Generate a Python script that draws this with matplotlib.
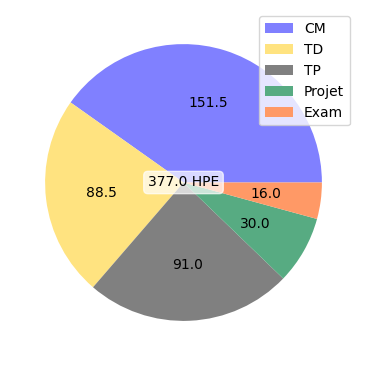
import matplotlib
matplotlib.use("Agg")
import matplotlib.pyplot as plt

categories = ["CM", "TD", "TP", "Projet", "Exam"]
hours = [151.5, 88.5, 91.0, 30.0, 16.0]
colors = ["#8080ff", "#ffe380", "#808080", "#57ab82", "#ff9966"]

total = sum(hours)

fig = plt.figure(figsize=(3.66, 3.66), dpi=100)
ax = fig.add_axes([10.5 / 366, 10.5 / 366, 346 / 366, 346 / 366])

ax.pie(
    hours,
    colors=colors,
    autopct=lambda p: f"{p * total / 100:.1f}",
    pctdistance=0.6,
    textprops={"fontsize": 10},
)
ax.text(
    0, 0, f"{total:.1f} HPE",
    ha="center", va="center", fontsize=10,
    bbox=dict(boxstyle="round", facecolor="white", edgecolor="white", alpha=0.7),
)
ax.legend(categories, loc="upper right")

fig.savefig("out.png", dpi=100)
